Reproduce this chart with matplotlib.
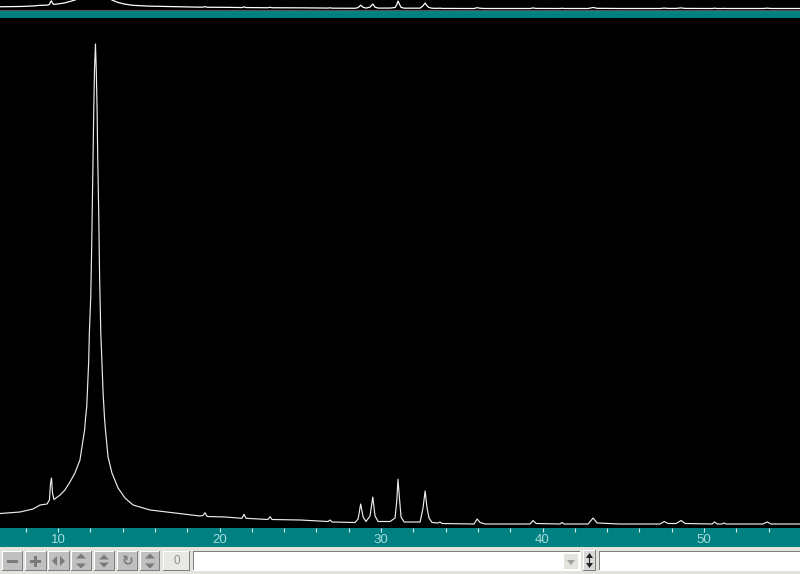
import matplotlib
matplotlib.use("Agg")
import matplotlib.pyplot as plt
from matplotlib.patches import Rectangle, Polygon

two_theta = [6.41,7.65,8.45,8.89,9.32,9.47,9.54,9.60,9.66,9.75,10.13,10.43,10.74,11.05,11.36,11.55,
             11.65,11.70,11.78,11.83,11.90,11.94,12.03,12.09,12.15,12.21,12.26,12.32,12.37,12.42,12.46,
             12.52,12.58,12.65,12.73,12.79,12.88,12.94,13.10,13.34,
             13.72,14.15,14.65,15.70,17.25,18.79,18.98,19.10,19.23,20.34,21.39,21.52,21.64,23.00,23.13,23.25,
             24.99,26.72,26.84,26.97,28.39,28.58,28.74,28.89,29.07,29.32,29.49,29.63,29.82,30.56,30.87,30.98,
             31.05,31.15,31.24,31.43,32.42,32.60,32.73,32.85,32.97,33.16,33.53,33.65,33.78,35.76,35.95,36.13,
             36.44,39.23,39.41,39.60,41.08,41.21,41.33,42.82,43.13,43.38,44.80,47.28,47.53,47.77,48.27,48.58,
             48.83,50.50,50.65,50.81,51.12,51.24,51.36,53.65,53.90,54.15,55.94]
intensity = [14.5,16,19,23,24,28,45,50,35,28.5,33,38,46,55,68,88,
             98,109,121,140,166,194,232,285,348,413,458,484,458,420,370,
             317,248,195,162,136,110,98,71,55,
             40,30,23,18,15,12,12.5,15.3,11.5,11,9.7,13.7,9.7,8.5,11.3,8.5,
             8,6.5,8,6,5.5,9,24,11,6.5,12,31,12,6.5,6.5,10,28,
             48.7,28,11,6,6,20,37,20,10,5.5,5,6,4.5,4,9,5.5,
             4,4,7.5,4.5,4,5.5,4,4,10,5,4,4,6.5,4.5,4.5,7.5,
             4.5,4,6,4,4,5,4,4,6,4,4]
tick_positions = list(range(6, 56, 2))
tick_labels = ["" if t % 10 else str(t) for t in tick_positions]
field_value = "0"

W, H = 800, 574
TEAL = "#008080"
GRAY = "#d4d0c8"
plt.rcParams["font.family"] = ["Liberation Sans", "DejaVu Sans"]
fig = plt.figure(figsize=(W / 100, H / 100), dpi=100, facecolor=GRAY)

def box(top, bottom):
    return [0, 1 - bottom / H, 1, (bottom - top) / H]

# Window chrome, in pixel coordinates
ui = fig.add_axes([0, 0, 1, 1], zorder=0)
ui.set_xlim(0, W); ui.set_ylim(H, 0); ui.axis("off")

def rect(x0, y0, x1, y1, color, z=1):
    ui.add_patch(Rectangle((x0, y0), x1 - x0, y1 - y0, fc=color, ec="none", zorder=z))

def raised(x0, y0, x1, y1, face="#c0c0c0"):
    rect(x0, y0, x1, y1, "#808080", 1)
    rect(x0, y0, x1 - 1, y1 - 1, "#ffffff", 2)
    rect(x0 + 1, y0 + 1, x1 - 1, y1 - 1, face, 3)

def sunken(x0, y0, x1, y1):
    rect(x0, y0, x1, y1, "#ffffff", 1)
    rect(x0, y0, x1 - 1, y1 - 1, "#808080", 2)
    rect(x0 + 1, y0 + 1, x1, y1, "#ffffff", 3)

rect(0, 9.5, W, 19, "#555555")
rect(0, 11, W, 18, TEAL, 2)
rect(0, 528, W, 547, TEAL)
rect(0, 547, W, H, "#e4e2dc", 1)

btns = [(2, 23), (25, 47), (48, 70), (71, 92), (94, 115), (117, 138), (140, 160)]
for x0, x1 in btns:
    raised(x0, 551, x1, 571)
raised(163, 551, 190, 571, "#e8e8e4")
ui.text(176.5, 561, field_value, ha="center", va="center", fontsize=8.5, color="#909090", zorder=5)
sunken(193, 551, 581, 571)
raised(563, 553, 579, 570, "#e4e2dc")
sunken(599, 551, W + 2, 571)
raised(583, 550, 596, 571, "#d8d8d8")

ICON = "#7a7a7a"
def poly(pts, c=ICON):
    ui.add_patch(Polygon(pts, closed=True, fc=c, ec="none", zorder=6))

rect(7, 560, 18, 563, ICON, 6)
rect(30, 560, 41, 563, ICON, 6)
rect(34, 556, 37, 567, ICON, 6)
poly([(57, 556), (57, 566), (52, 561)]); poly([(60, 556), (60, 566), (65, 561)])
for cx, gap in [(81, 1.5), (104, 0.5), (150, 1.5)]:
    poly([(cx - 5, 560 - gap), (cx + 5, 560 - gap), (cx, 555 - gap)])
    poly([(cx - 5, 562 + gap), (cx + 5, 562 + gap), (cx, 567 + gap)])
ui.text(127.5, 561, "\u21bb", ha="center", va="center", fontsize=10, color=ICON, zorder=6,
        family="DejaVu Sans", fontweight="bold")
poly([(567, 560), (575, 560), (571, 565)], "#a0a0a0")
poly([(589.5, 553), (593, 558), (586, 558)], "#222222")
poly([(589.5, 568), (593, 563), (586, 563)], "#222222")
rect(589, 557, 590, 564, "#222222", 6)

# Overview strip
ax_top = fig.add_axes(box(0, 10), facecolor="black", zorder=1)
ax_top.plot(two_theta, intensity, color="white", lw=0.9)
ax_top.set_xticks([]); ax_top.set_yticks([])
ax_top.set_xlim(6.41, 55.94); ax_top.set_ylim(-5, 55)
for s in ax_top.spines.values():
    s.set_visible(False)

# Main spectrum
ax = fig.add_axes(box(18, 528), facecolor="black", zorder=1)
ax.plot(two_theta, intensity, color="#ececec", lw=0.85)
ax.set_yticks([])
ax.set_xticks(tick_positions)
ax.set_xticklabels(tick_labels, fontsize=9.5, color="#a8dcdc")
ax.set_xlim(6.41, 55.94); ax.set_ylim(0, 510)
ax.tick_params(axis="x", direction="out", length=3, width=0.8, color="#d8eeee", pad=1)
for s in ax.spines.values():
    s.set_visible(False)

fig.savefig("out.png", dpi=100, facecolor=fig.get_facecolor())
